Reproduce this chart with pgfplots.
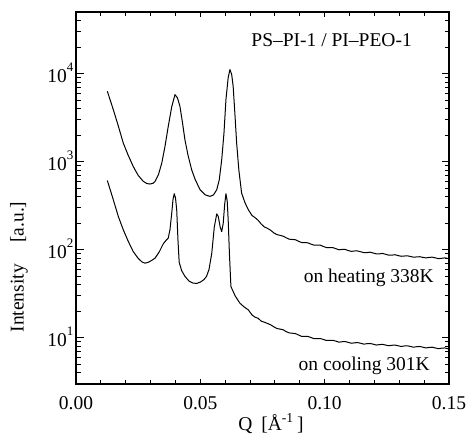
\documentclass[border=0pt]{standalone}
\usepackage{fontspec}
\setmainfont{Liberation Serif}
\usepackage{pgfplots}
\pgfplotsset{compat=1.18}
\newcommand{\tp}[1]{10\raisebox{11bp}{\fontsize{13bp}{13bp}\selectfont #1}}
\begin{document}
\fontsize{19.5bp}{23bp}\selectfont
\begin{tikzpicture}
\begin{axis}[at={(0,0)}, anchor=south west, scale only axis,
  width=373bp, height=372bp,
  xmin=0, xmax=0.15, ymode=log, ymin=3, ymax=5e4,
  axis line style={line width=1.2bp},
  every tick/.style={black, line width=1bp},
  tick align=inside,
  major tick length=7.5bp, minor tick length=4.5bp,
  xtick={0,0.05,0.1,0.15}, xticklabels={0.00,0.05,0.10,0.15},
  minor xtick={0.01,0.02,0.03,0.04,0.06,0.07,0.08,0.09,0.11,0.12,0.13,0.14},
  xtick style={/pgfplots/major tick length=5bp},
  ytick={10,100,1000,10000},
  yticklabels={\tp{1},\tp{2},\tp{3},\tp{4}},
  minor ytick={4,5,6,7,8,9,20,30,40,50,60,70,80,90,200,300,400,500,600,700,800,900,2000,3000,4000,5000,6000,7000,8000,9000,20000,30000,40000},
  xticklabel style={yshift=-6bp},
  yticklabel style={anchor=base east, yshift=-9bp, xshift=4bp},
]
\addplot[black, line width=1bp, line join=round] coordinates {
(0.0126,6300) (0.0150,3900) (0.0170,2550) (0.0190,1630) (0.0210,1180) (0.0230,885)
(0.0250,700) (0.0271,597) (0.0285,565) (0.0298,558) (0.0310,570) (0.0318,597)
(0.0332,720) (0.0345,966) (0.0358,1500) (0.0371,2520) (0.0385,4200) (0.0398,5770)
(0.0408,5300) (0.0418,4250) (0.0428,2800) (0.0438,1780) (0.0450,1200) (0.0465,811)
(0.0480,620) (0.0499,481) (0.0520,420) (0.0539,404) (0.0553,420) (0.0566,481)
(0.0576,620) (0.0586,1054) (0.0595,2100) (0.0603,5070) (0.0612,9000) (0.0619,11100)
(0.0626,9800) (0.0632,7180) (0.0639,3500) (0.0646,1630) (0.0655,800) (0.0666,440)
(0.0680,340) (0.0693,285) (0.0708,245)
(0.0720,232) (0.07325,216) (0.0745,196) (0.07575,182) (0.0770,175) (0.07825,167)
(0.0795,156) (0.08075,149) (0.0820,146) (0.08325,143) (0.0845,137) (0.08575,132)
(0.0870,131) (0.08825,130) (0.0895,125) (0.09075,121) (0.0920,121) (0.09325,120)
(0.0945,116) (0.09575,113) (0.0970,113) (0.09825,113) (0.0995,109) (0.10075,106)
(0.1020,106) (0.10325,106) (0.1045,103) (0.10575,100) (0.1070,101) (0.10825,101)
(0.1095,98) (0.11075,96) (0.1120,97) (0.11325,97) (0.1145,95) (0.11575,93)
(0.1170,93) (0.11825,94) (0.1195,92) (0.12075,90) (0.1220,90) (0.12325,91)
(0.1245,89) (0.12575,87) (0.1270,87) (0.12825,88) (0.1295,86) (0.13075,84.5)
(0.1320,85) (0.13325,85.5) (0.1345,84) (0.13575,82.5) (0.1370,83) (0.13825,83.5)
(0.1395,82) (0.14075,81) (0.1420,82) (0.14325,82.5) (0.1445,81) (0.14575,79.5)
(0.1470,80) (0.14825,81) (0.1500,79.5)
};
\addplot[black, line width=1bp, line join=round] coordinates {
(0.0126,612) (0.0150,370) (0.0170,240) (0.0190,169) (0.0210,125) (0.0230,95.6)
(0.0250,80) (0.0265,73) (0.0277,70.6) (0.0290,72) (0.0305,76) (0.0318,80.5)
(0.0335,95) (0.0351,117) (0.0362,128) (0.0371,136) (0.0378,170) (0.0385,261)
(0.0390,370) (0.0395,433) (0.0400,390) (0.0405,285) (0.0410,130) (0.0415,72)
(0.0425,58) (0.0438,50) (0.0455,44) (0.0470,42) (0.0485,41.5) (0.0500,43)
(0.0515,46) (0.0525,50) (0.0535,60) (0.0546,91.6) (0.0556,180) (0.0566,256)
(0.0572,240) (0.0580,180) (0.0586,161) (0.0592,200) (0.0598,330) (0.0603,433)
(0.0608,360) (0.0612,219) (0.0617,90) (0.0623,38.3) (0.0640,30) (0.0659,24.8)
(0.0676,22.5) (0.0693,20.8) (0.0708,18.2)
(0.0720,17.2) (0.07325,16.7) (0.0745,15.5) (0.07575,15.1) (0.0770,14.6) (0.07825,14.1)
(0.0795,13.4) (0.08075,12.8) (0.0820,12.6) (0.08325,12.4) (0.0845,11.8) (0.08575,11.4)
(0.0870,11.3) (0.08825,11.2) (0.0895,10.8) (0.09075,10.4) (0.0920,10.4) (0.09325,10.4)
(0.0945,10.1) (0.09575,9.8) (0.0970,9.8) (0.09825,9.85) (0.0995,9.6) (0.10075,9.35)
(0.1020,9.4) (0.10325,9.4) (0.1045,9.2) (0.10575,8.95) (0.1070,9.05) (0.10825,9.1)
(0.1095,8.9) (0.11075,8.7) (0.1120,8.8) (0.11325,8.85) (0.1145,8.7) (0.11575,8.5)
(0.1170,8.6) (0.11825,8.65) (0.1195,8.5) (0.12075,8.3) (0.1220,8.4) (0.12325,8.45)
(0.1245,8.3) (0.12575,8.15) (0.1270,8.25) (0.12825,8.3) (0.1295,8.15) (0.13075,8.0)
(0.1320,8.1) (0.13325,8.15) (0.1345,8.0) (0.13575,7.85) (0.1370,7.95) (0.13825,8.0)
(0.1395,7.85) (0.14075,7.7) (0.1420,7.8) (0.14325,7.85) (0.1445,7.7) (0.14575,7.55)
(0.1470,7.65) (0.14825,7.7) (0.1500,7.5)
};
\end{axis}
\node[anchor=base east, inner sep=0pt] at (336bp,337bp) {PS–PI-1 / PI–PEO-1};
\node[anchor=base east, inner sep=0pt] at (358bp,101bp) {on heating 338K};
\node[anchor=base east, inner sep=0pt] at (354bp,14bp) {on cooling 301K};
\node[rotate=90, anchor=center, inner sep=0pt] at (-57bp,117bp) {Intensity\hspace{1.1em}[a.u.]};
\node[anchor=base, inner sep=0pt] at (195bp,-46bp) {Q\hspace{0.45em}[Å\textsuperscript{-1}\,]};
\pgfresetboundingbox
\path (-76bp,-52bp) rectangle (391bp,384bp);
\end{tikzpicture}
\end{document}
